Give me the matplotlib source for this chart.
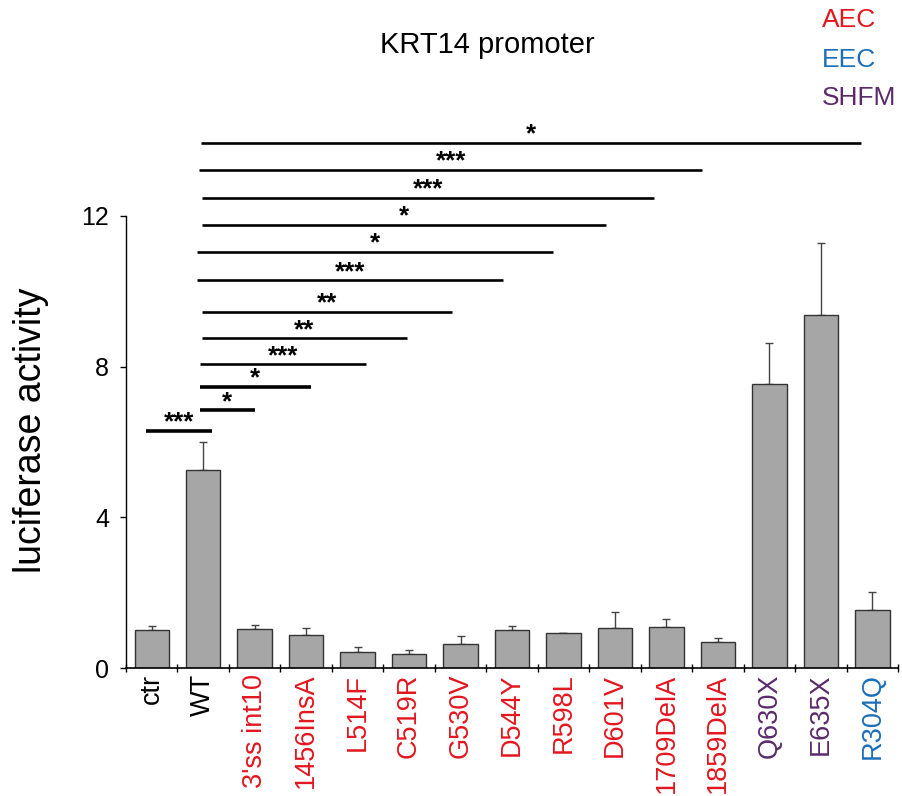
import matplotlib
matplotlib.use("Agg")
import matplotlib.pyplot as plt
import numpy as np

plt.rcParams['font.family'] = ['Liberation Sans', 'DejaVu Sans']

categories = ['ctr', 'WT', "3'ss int10", '1456InsA', 'L514F', 'C519R', 'G530V',
              'D544Y', 'R598L', 'D601V', '1709DelA', '1859DelA', 'Q630X', 'E635X', 'R304Q']
values = [1.00, 5.25, 1.04, 0.88, 0.42, 0.37, 0.65, 1.01, 0.92, 1.05, 1.10, 0.69, 7.54, 9.37, 1.53]
errors = [0.12, 0.75, 0.11, 0.18, 0.14, 0.12, 0.20, 0.11, 0.02, 0.43, 0.21, 0.10, 1.09, 1.90, 0.49]
groups = ['ctrl', 'ctrl'] + ['AEC'] * 10 + ['SHFM', 'SHFM', 'EEC']

yticks = [0, 4, 8, 12]

# significance brackets (WT vs mutants, ctr vs WT)
sig_labels = ['***', '*', '*', '***', '**', '**', '***', '*', '*', '***', '***', '*']
sig_y = [6.29, 6.84, 7.47, 8.06, 8.75, 9.45, 10.29, 11.04, 11.77, 12.48, 13.22, 13.95]
sig_x0 = [-0.12, 0.93, 0.93, 0.93, 0.97, 0.97, 0.88, 0.88, 0.97, 0.97, 0.92, 0.96]
sig_x1 = [1.17, 2.00, 3.09, 4.16, 4.95, 5.83, 6.83, 7.80, 8.82, 9.75, 10.70, 13.79]

legend_names = ['AEC', 'EEC', 'SHFM']

colors = {'ctrl': 'black', 'AEC': '#e3161e', 'EEC': '#1c6fb8', 'SHFM': '#5a2a6a'}

fig = plt.figure(figsize=(9.02, 7.96), dpi=100)
ax = fig.add_axes([0.1397, 0.1608, 0.8559, 0.6862])

x = np.arange(len(categories))
ax.bar(x, values, width=0.67, color='#a6a6a6', edgecolor='#333333', linewidth=1.0, zorder=2)
ax.errorbar(x, values, yerr=[np.zeros(len(errors)), errors], fmt='none',
            ecolor='#444444', elinewidth=1.0, capsize=3, capthick=1.0, zorder=1)

ax.set_xlim(-0.5, len(categories) - 0.5)
ax.set_ylim(0, 14.5)
ax.spines['top'].set_visible(False)
ax.spines['right'].set_visible(False)
ax.spines['left'].set_bounds(0, 12)
ax.spines['left'].set_linewidth(1.0)
ax.spines['bottom'].set_linewidth(1.2)

ax.set_yticks(yticks)
ax.set_yticklabels([str(v) for v in yticks], fontsize=18)
ax.tick_params(axis='y', length=4, width=1, direction='out', pad=8)

ax.set_xticks(x)
ax.set_xticklabels(categories, rotation=90, fontsize=19.5)
ax.tick_params(axis='x', which='major', length=0, pad=4)
ax.set_xticks(np.arange(-0.5, len(categories), 1.0), minor=True)
ax.tick_params(axis='x', which='minor', length=6, width=1, direction='inout')
for lbl, g in zip(ax.get_xticklabels(), groups):
    lbl.set_color(colors[g])

ax.set_ylabel('luciferase activity', fontsize=27)
ax.yaxis.set_label_coords(-0.100, 0.436)

for i, (lab, yy, a, b) in enumerate(zip(sig_labels, sig_y, sig_x0, sig_x1)):
    lw = 2.6 if i < 3 else 1.9
    ax.plot([a, b], [yy, yy], color='black', lw=lw, solid_capstyle='butt', clip_on=False)
    ax.text((a + b) / 2, yy + 0.04, lab, ha='center', va='baseline', fontsize=18.5,
            fontweight='bold', clip_on=False)

fig.text(0.54, 0.943, 'KRT14 promoter', ha='center', va='center', fontsize=21)
for name, yy in zip(legend_names, [0.975, 0.925, 0.877]):
    fig.text(0.911, yy, name, ha='left', va='center', fontsize=19, color=colors[name])

fig.savefig('out.png', dpi=100)
